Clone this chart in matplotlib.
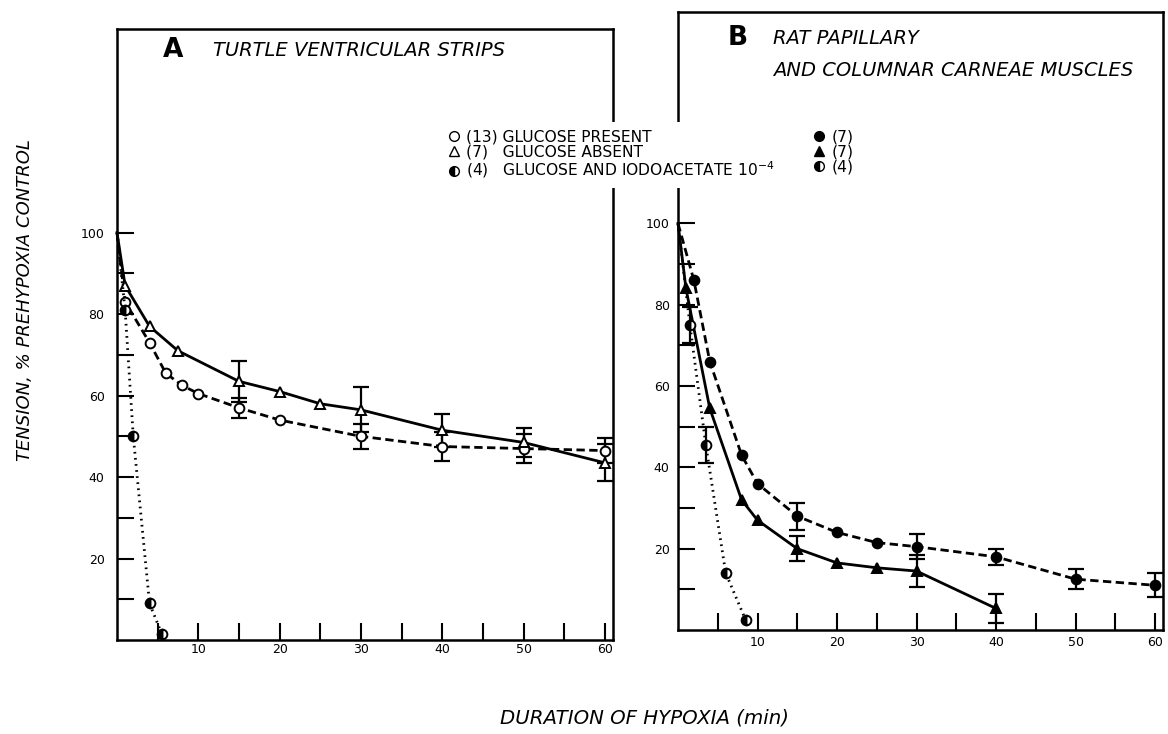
import numpy as np
import matplotlib
matplotlib.use("Agg")
import matplotlib.pyplot as plt
from matplotlib.lines import Line2D

plt.rcParams['font.family'] = ['DejaVu Sans']

# Panel A: turtle ventricular strips
t_a_present = [0, 1, 4, 6, 8, 10, 15, 20, 30, 40, 50, 60]
a_present = [100, 83, 73, 65.5, 62.5, 60.5, 57, 54, 50, 47.5, 47, 46.5]
a_present_err = [0, 0, 0, 0, 0, 0, 2.5, 0, 3, 3.5, 3.5, 3]

t_a_absent = [0, 1, 4, 7.5, 15, 20, 25, 30, 40, 50, 60]
a_absent = [100, 87, 77, 71, 63.5, 61, 58, 56.5, 51.5, 48.5, 43.5]
a_absent_err = [0, 0, 0, 0, 5, 0, 0, 5.5, 4, 3.5, 4.5]

t_a_iodo = [0, 1, 2, 4, 5.5]
a_iodo = [100, 81, 50, 9, 1.5]
a_iodo_err = [0, 0, 0, 0, 0]

# Panel B: rat papillary and columnar carneae muscles
t_b_present = [0, 2, 4, 8, 10, 15, 20, 25, 30, 40, 50, 60]
b_present = [100, 86, 66, 43, 36, 28, 24, 21.5, 20.5, 18, 12.5, 11]
b_present_err = [0, 0, 0, 0, 0, 3.3, 0, 0, 3, 2, 2.5, 3]

t_b_absent = [0, 1, 4, 8, 10, 15, 20, 25, 30, 40]
b_absent = [100, 84, 54.5, 32, 27, 20, 16.5, 15.3, 14.5, 5.3]
b_absent_err = [0, 0, 0, 0, 0, 3, 0, 0, 4, 3.5]

t_b_iodo = [0, 1.5, 3.5, 6, 8.5]
b_iodo = [100, 75, 45.5, 14, 2.5]
b_iodo_err = [0, 4.5, 4.5, 0, 0]

n_a = [13, 7, 4]
n_b = [7, 7, 4]
conditions = ['GLUCOSE PRESENT', 'GLUCOSE ABSENT', 'GLUCOSE AND IODOACETATE 10$^{-4}$']

W, H = 1168, 734
fig = plt.figure(figsize=(W / 100, H / 100), dpi=100)
fig.patch.set_facecolor('white')

axA = fig.add_axes([117 / W, 1 - 640 / H, (613 - 117) / W, (640 - 29) / H])
axB = fig.add_axes([678 / W, 1 - 630 / H, (1163 - 678) / W, (630 - 12) / H])


def curve(ax, t, v, err, marker, ls, mfc, fill='full'):
    ax.plot(t, v, color='k', ls=ls, lw=2, marker=marker, ms=7, mfc=mfc, mec='k',
            mew=1.4, fillstyle=fill, markerfacecoloralt='white',
            markevery=slice(1, None), clip_on=False, zorder=3)
    t, v, err = np.array(t), np.array(v), np.array(err)
    m = err > 0
    if m.any():
        ax.errorbar(t[m], v[m], yerr=err[m], fmt='none', ecolor='k', elinewidth=1.6,
                    capsize=6, capthick=1.6, zorder=2)


dashed = (0, (3, 1.6))
dotted = (0, (0.6, 1.6))

curve(axA, t_a_present, a_present, a_present_err, 'o', dashed, 'white')
curve(axA, t_a_absent, a_absent, a_absent_err, '^', '-', 'white')
curve(axA, t_a_iodo, a_iodo, a_iodo_err, 'o', dotted, 'k', fill='left')

curve(axB, t_b_present, b_present, b_present_err, 'o', dashed, 'k')
curve(axB, t_b_absent, b_absent, b_absent_err, '^', '-', 'k')
curve(axB, t_b_iodo, b_iodo, b_iodo_err, 'o', dotted, 'k', fill='left')

for ax, top, ypad, xpad in [(axA, 150, 9, 2), (axB, 152, 6, 4)]:
    ax.set_xlim(0, 61)
    ax.set_ylim(0, top)
    xt = list(range(5, 61, 5))
    ax.set_xticks(xt)
    ax.set_xticklabels(['' if v % 10 else str(v) for v in xt])
    yt = list(range(10, 101, 10))
    ax.set_yticks(yt)
    ax.set_yticklabels(['' if v % 20 else str(v) for v in yt])
    ax.tick_params(direction='in', length=12, width=1.5, labelsize=9)
    ax.tick_params(axis='y', pad=ypad)
    ax.tick_params(axis='x', pad=xpad)
    for s in ax.spines.values():
        s.set_linewidth(1.8)

# panel titles
fig.text(163 / W, 1 - 50 / H, 'A', fontsize=19, fontweight='bold', va='center')
fig.text(213 / W, 1 - 50 / H, 'TURTLE VENTRICULAR STRIPS', fontsize=14,
         style='italic', va='center')
fig.text(728 / W, 1 - 38 / H, 'B', fontsize=19, fontweight='bold', va='center')
fig.text(773 / W, 1 - 39 / H, 'RAT PAPILLARY', fontsize=14, style='italic', va='center')
fig.text(773 / W, 1 - 71 / H, 'AND COLUMNAR CARNEAE MUSCLES', fontsize=14,
         style='italic', va='center')

fig.text(25 / W, 1 - 300 / H, 'TENSION, % PREHYPOXIA CONTROL', rotation=90,
         fontsize=13, style='italic', ha='center', va='center')
fig.text(645 / W, 1 - 718 / H, 'DURATION OF HYPOXIA (min)', fontsize=14.2,
         style='italic', ha='center', va='center')

# legend
handles = [
    Line2D([], [], ls='none', marker='o', mfc='white', mec='k', ms=7),
    Line2D([], [], ls='none', marker='^', mfc='white', mec='k', ms=7),
    Line2D([], [], ls='none', marker='o', mfc='k', mec='k', ms=7, fillstyle='left',
           markerfacecoloralt='white'),
    Line2D([], [], ls='none', marker='o', mfc='k', mec='k', ms=7),
    Line2D([], [], ls='none', marker='^', mfc='k', mec='k', ms=7),
    Line2D([], [], ls='none', marker='o', mfc='k', mec='k', ms=7, fillstyle='left',
           markerfacecoloralt='white'),
]
labels = ['(%d)%s%s' % (n, ' ' if n >= 10 else '   ', c) for n, c in zip(n_a, conditions)]
labels += ['(%d)' % n for n in n_b]
fig.legend(handles, labels, ncol=2, loc='upper left',
           bbox_to_anchor=(440 / W, 1 - 122 / H), frameon=True, facecolor='white',
           edgecolor='none', framealpha=1, fontsize=11.2, handlelength=0.8,
           handletextpad=0.4, columnspacing=2.4, labelspacing=0.0, borderpad=0.5,
           borderaxespad=0)

fig.savefig('out.png', dpi=100)
